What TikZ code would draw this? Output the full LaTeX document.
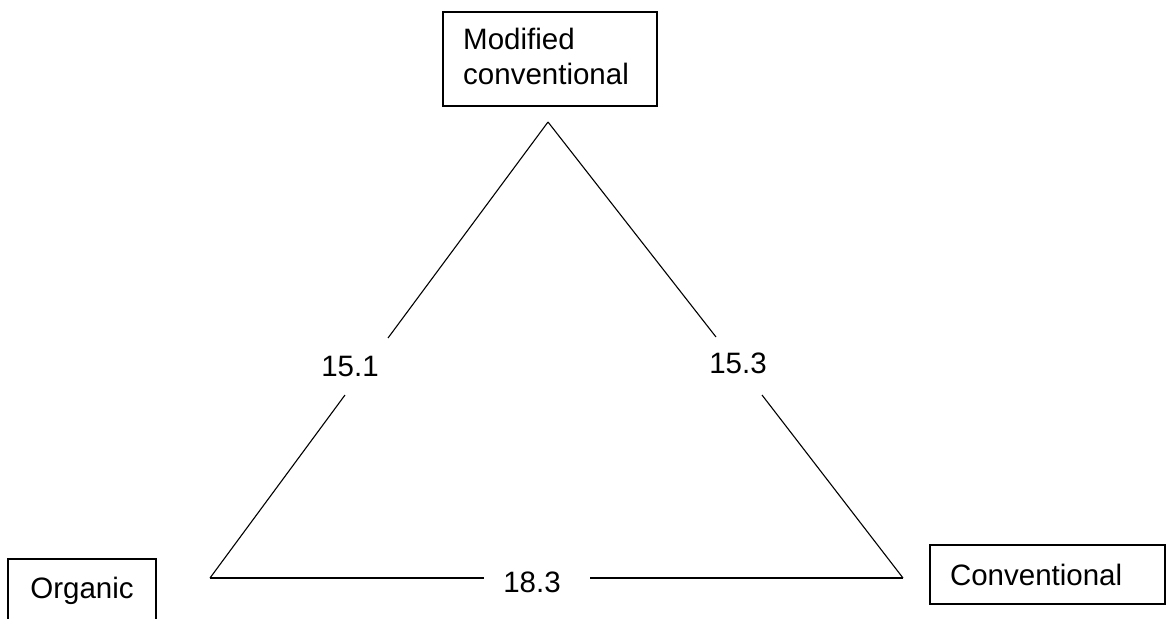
\documentclass[tikz,border=0pt]{standalone}
\usepackage{fontspec}
\setmainfont{Liberation Sans}
\begin{document}
\begin{tikzpicture}[x=1pt,y=-1pt,
  box/.style={draw, line width=1.2pt, inner sep=0pt, font=\fontsize{29.5}{35}\selectfont},
  lbl/.style={inner sep=0pt, font=\fontsize{29.5}{35}\selectfont},
  edge/.style={line width=1.1pt}]
\useasboundingbox (0,0) rectangle (1166,618);
% boxes
\node[box, minimum width=214, minimum height=94] (mod) at (550,59) {};
\node[lbl, anchor=north west, text width=190, align=left] (modt) at (463,28) {Modified\\conventional};
\node[box, minimum width=148, minimum height=64] (org) at (82,591) {Organic};
\node[box, minimum width=235, minimum height=59, text width=195, inner xsep=20, align=left] (conv) at (1047.5,574.5) {Conventional};
% triangle vertices
\coordinate (apex) at (548,122);
\coordinate (bl) at (210,578);
\coordinate (br) at (903,578);
% gap ends
\coordinate (l1) at (388,338);
\coordinate (l2) at (345,395);
\coordinate (r1) at (716,337);
\coordinate (r2) at (762,395);
\coordinate (b1) at (484,578);
\coordinate (b2) at (590,578);
% labels
\node[lbl] (t151) at (350,366) {15.1};
\node[lbl] (t153) at (738,363) {15.3};
\node[lbl] (t183) at (532,582) {18.3};
% edges
\draw[edge] (apex) -- (l1);
\draw[edge] (l2) -- (bl);
\draw[edge] (apex) -- (r1);
\draw[edge] (r2) -- (br);
\draw[edge] (bl) -- (b1);
\draw[edge] (b2) -- (br);
\end{tikzpicture}
\end{document}
